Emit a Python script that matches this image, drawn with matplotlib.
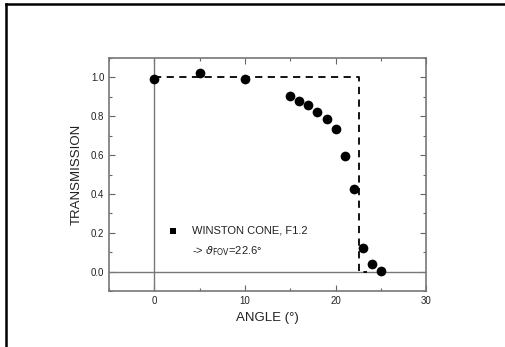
import matplotlib
matplotlib.use('Agg')
from matplotlib import pyplot as plt
from matplotlib.lines import Line2D
from matplotlib.ticker import MultipleLocator

plt.rcParams['font.family'] = ['Liberation Sans', 'DejaVu Sans']

# measured transmission vs angle
angle = [0, 5, 10, 15, 16, 17, 18, 19, 20, 21, 22, 23, 24, 25]
transmission = [0.991, 1.024, 0.993, 0.903, 0.881, 0.858, 0.822, 0.788,
                0.736, 0.596, 0.425, 0.123, 0.041, 0.003]

# ideal cone cut-off
ideal_x = [0, 22.6, 22.6, 23.5]
ideal_y = [1.0, 1.0, 0.0, 0.0]

fig = plt.figure(figsize=(5.05, 3.47), dpi=100)
ax = fig.add_axes([0.216, 0.161, 0.628, 0.672])

# frame lines round the figure (top and left only)
fig.add_artist(Line2D([0.011, 0.011], [0, 0.988], color='black', lw=1.8))
fig.add_artist(Line2D([0.011, 1.0], [0.988, 0.988], color='black', lw=1.8))

ax.axhline(0, color='#777777', lw=1)
ax.axvline(0, color='#777777', lw=1)

ax.plot(ideal_x, ideal_y, color='black', lw=1.3, ls=(0, (4, 3)))
ax.plot(angle, transmission, 'o', color='black', ms=7, mew=0)

ax.set_xlim(-5, 30)
ax.set_ylim(-0.1, 1.1)
ax.xaxis.set_major_locator(MultipleLocator(10))
ax.xaxis.set_minor_locator(MultipleLocator(5))
ax.yaxis.set_major_locator(MultipleLocator(0.2))
ax.yaxis.set_minor_locator(MultipleLocator(0.1))
ax.yaxis.set_major_formatter(plt.FormatStrFormatter('%.1f'))

ax.tick_params(which='both', direction='in', top=True, right=True,
               color='#666666', labelsize=7, labelcolor='#222222')
ax.tick_params(which='major', length=4, width=0.8)
ax.tick_params(which='minor', length=2, width=0.8)
for s in ax.spines.values():
    s.set_color('#777777')
    s.set_linewidth(1.2)

ax.set_xlabel('ANGLE (°)', fontsize=9.5, color='#222222', labelpad=4)
ax.set_ylabel('TRANSMISSION', fontsize=9.5, color='#222222', labelpad=6)

# legend drawn by hand
ax.plot([2.0], [0.21], 's', color='black', ms=5, mew=0)
ax.text(4.2, 0.21, 'WINSTON CONE, F1.2', fontsize=8, va='center', color='#222222')
ax.text(4.2, 0.105, r'-> $\vartheta_{\rm FOV}$=22.6°', fontsize=8, va='center',
        color='#222222')

plt.savefig('out.png', dpi=100)
